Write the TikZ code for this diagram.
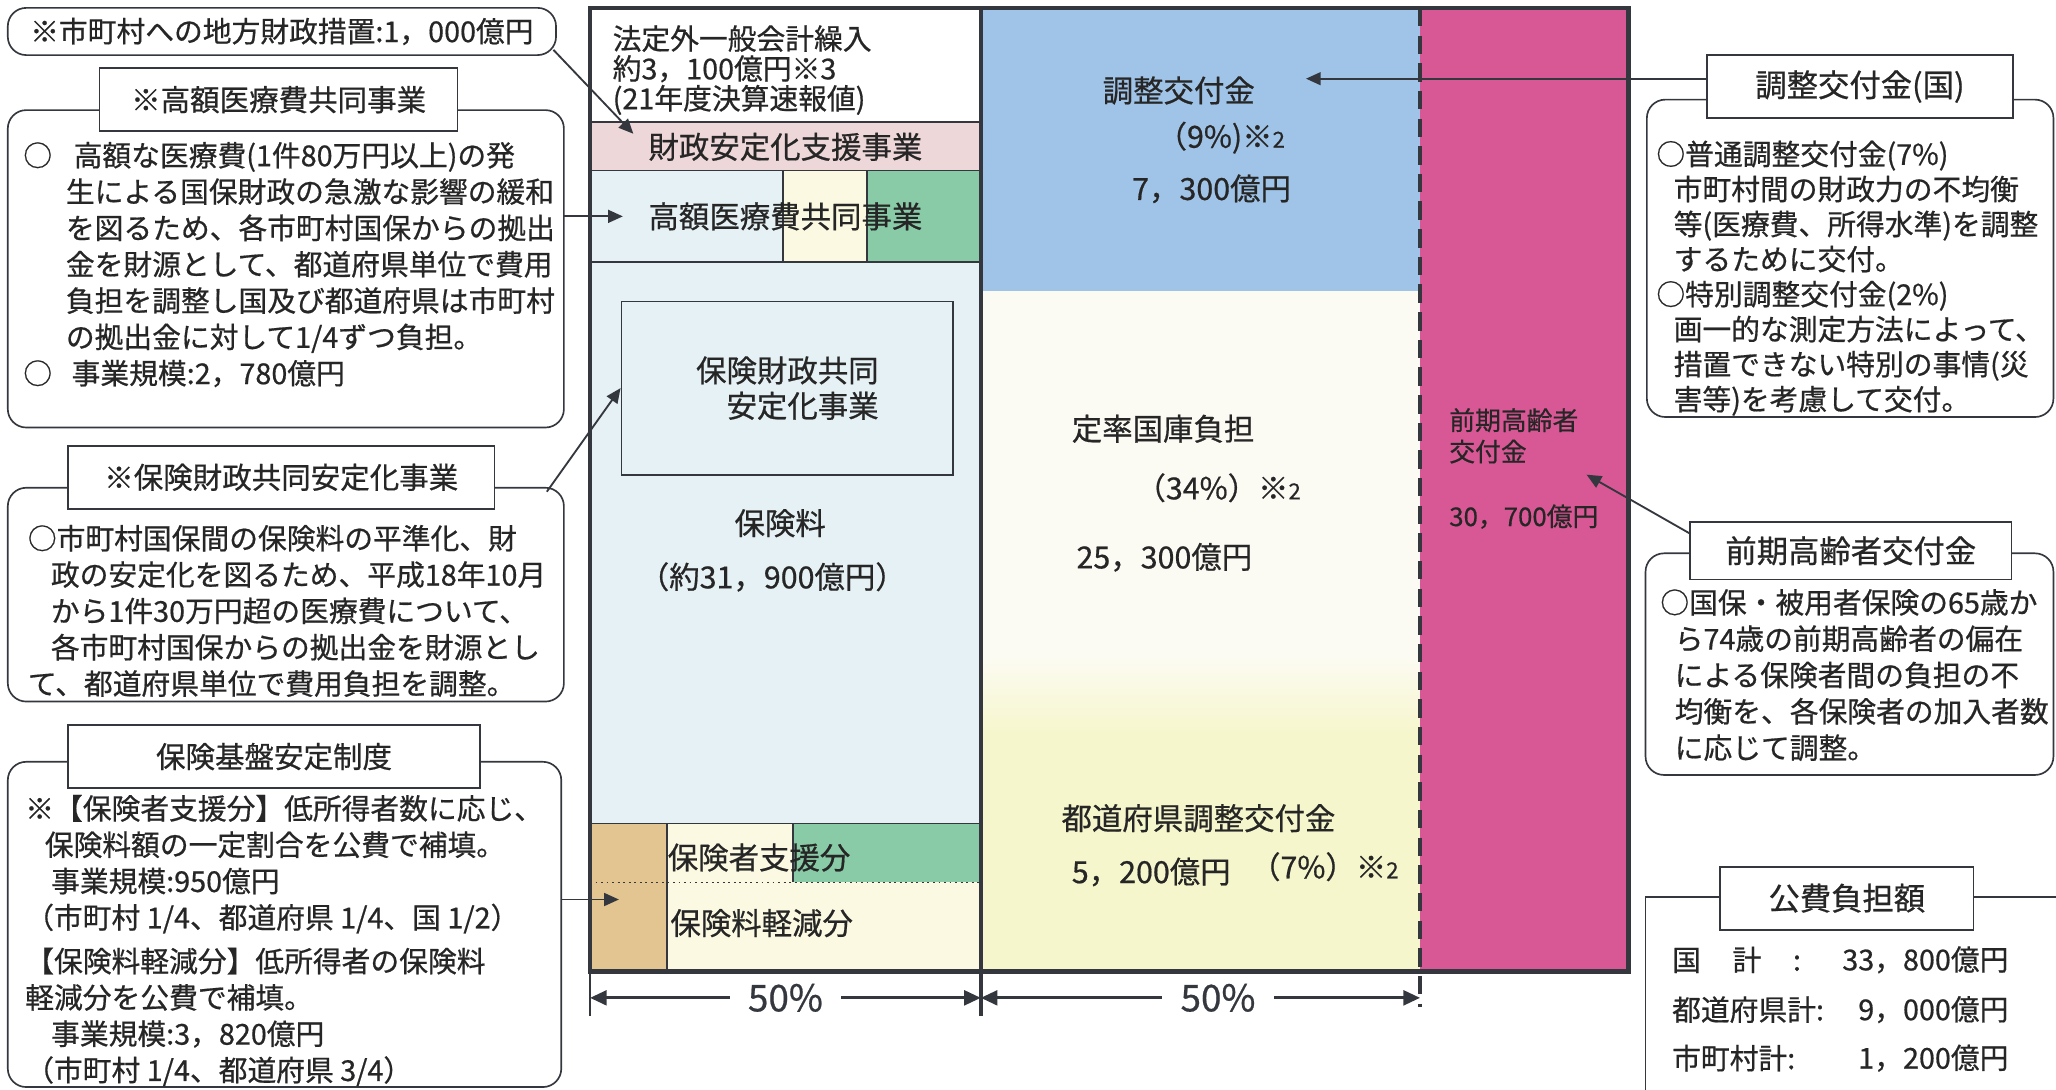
\documentclass[tikz,border=0pt]{standalone}
\usepackage{fontspec}
\setmainfont{Noto Sans CJK JP}[FakeBold=0.6]
\usetikzlibrary{positioning,arrows.meta}

\definecolor{inkgray}{RGB}{52,56,62}
\definecolor{kblue}{RGB}{160,196,232}
\definecolor{kpink}{RGB}{215,88,148}
\definecolor{ksky}{RGB}{229,241,244}
\definecolor{krose}{RGB}{238,215,216}
\definecolor{kgreen}{RGB}{136,203,166}
\definecolor{kcream}{RGB}{252,249,226}
\definecolor{ktan}{RGB}{226,197,145}
\definecolor{kyellow}{RGB}{246,246,204}
\definecolor{kivory}{RGB}{252,251,243}

\newcommand{\fsbody}{\fontsize{15.6pt}{19.7pt}\selectfont}
\newcommand{\fsright}{\fontsize{15.6pt}{19pt}\selectfont}
\newcommand{\fshead}{\fontsize{16pt}{19pt}\selectfont}
\newcommand{\fsheadR}{\fontsize{17pt}{20pt}\selectfont}
\newcommand{\fscell}{\fontsize{16.5pt}{19.2pt}\selectfont}
\newcommand{\fssmall}{\fontsize{14pt}{17pt}\selectfont}
\newcommand{\fsdim}{\fontsize{20pt}{22pt}\selectfont}
\newcommand{\notenum}[1]{{\fontsize{12pt}{12pt}\selectfont #1}}

\tikzset{
  notebox/.style={draw=inkgray, line width=0.9pt, rounded corners=10pt, inner sep=0pt, outer sep=0pt},
  headbox/.style={draw=inkgray, line width=0.9pt, fill=white, inner sep=0pt, outer sep=0pt,
    minimum height=1.2cm, font=\fshead, text=black!85},
  bodytext/.style={inner sep=0pt, align=left, anchor=north west, font=\fsbody, text=black!85},
  celltext/.style={inner sep=0pt, font=\fscell, text=black!85},
  pointer/.style={draw=inkgray, line width=1pt, -{Triangle[length=8pt,width=7pt]}},
  dimline/.style={draw=inkgray, line width=1.6pt, {Triangle[length=9pt,width=8pt]}-{Triangle[length=9pt,width=8pt]}},
  pct/.style={fill=white, inner xsep=10pt, inner ysep=2pt, font=\fsdim, text=inkgray},
}

\begin{document}
\begin{tikzpicture}[x=0.025cm,y=-0.025cm]
  \useasboundingbox (0,0) rectangle (1568,831);
  \fill[white] (0,0) rectangle (1568,831);

  % chart fills
  \fill[white] (450,6) rectangle (748,93);
  \fill[krose] (450,93) rectangle (748,130);
  \fill[ksky] (450,130) rectangle (597,200);
  \fill[kcream] (597,130) rectangle (661,200);
  \fill[kgreen] (661,130) rectangle (748,200);
  \fill[ksky] (450,200) rectangle (748,628);
  \fill[ktan] (450,628) rectangle (509,741);
  \fill[kcream] (509,628) rectangle (605,673);
  \fill[kgreen] (605,628) rectangle (748,673);
  \fill[kcream] (509,673) rectangle (748,741);
  \fill[kblue] (748,6) rectangle (1083,222);
  \fill[kivory] (748,222) rectangle (1083,500);
  \shade[top color=kivory, bottom color=kyellow] (748,500) rectangle (1083,560);
  \fill[kyellow] (748,560) rectangle (1083,741);
  \fill[kpink] (1083,6) rectangle (1242,741);

  % chart lines
  \draw[inkgray, line width=1pt]
    (450,93) -- (748,93)
    (450,130) -- (748,130)
    (450,200) -- (748,200)
    (597,130) -- (597,200)
    (661,130) -- (661,200)
    (450,628) -- (748,628)
    (509,628) -- (509,741)
    (605,628) -- (605,673);
  \draw[inkgray, line width=1pt, dotted] (450,673) -- (748,673);
  \draw[inkgray, line width=2pt] (748,6) -- (748,775);
  \draw[inkgray, line width=2.2pt, dash pattern=on 10pt off 5pt] (1083,6) -- (1083,768);
  \draw[inkgray, line width=2.4pt] (450,6) rectangle (1242,741);
  \draw[inkgray, line width=1.2pt] (450,741) -- (450,775);

  % chart texts
  \node[bodytext, font=\fontsize{15.6pt}{16.2pt}\selectfont] (hotei) at (467,19)
    {法定外一般会計繰入\\約3，100億円※3\\(21年度決算速報値)};
  \node[celltext] (zaisei) at (599,112) {財政安定化支援事業};
  \node[celltext] (kogakucell) at (599,165) {高額医療費共同事業};
  \node[draw=inkgray, line width=1pt, minimum width=6.325cm, minimum height=3.3cm,
    inner sep=0pt, align=right, font=\fscell, text=black!85] (hokenbox) at (600.5,296)
    {保険財政共同\\安定化事業};
  \node[celltext] (hokenryo) at (595,399) {保険料};
  \node[celltext] (hokengaku) at (589,440) {（約31，900億円）};
  \node[celltext, anchor=west] (shien) at (509,654) {保険者支援分};
  \node[celltext, anchor=west] (keigen) at (511,704) {保険料軽減分};
  \node[celltext] (chocell) at (899,69) {調整交付金};
  \node[celltext] (chopct) at (931,105) {（9\%)※\notenum{2}};
  \node[celltext] (choamt) at (924,144) {7，300億円};
  \node[celltext] (teiritsu) at (887,327) {定率国庫負担};
  \node[celltext] (teipct) at (929,372) {（34\%）※\notenum{2}};
  \node[celltext] (teiamt) at (888,425) {25，300億円};
  \node[celltext] (todocell) at (914,624) {都道府県調整交付金};
  \node[celltext] (todoamt) at (878,665) {5，200億円};
  \node[celltext] (todopct) at (1010,661) {（7\%）※\notenum{2}};
  \node[bodytext, font=\fssmall] (zenkicell) at (1105,311) {前期高齢者\\交付金};
  \node[celltext, anchor=west, font=\fssmall] (zenkiamt) at (1105,394) {30，700億円};

  % 50% dimensions
  \coordinate (d0) at (450,761);
  \coordinate (d1) at (748,761);
  \coordinate (d2) at (1083,761);
  \draw[dimline] (d0) -- node[pct] {50\%} (d1);
  \draw[dimline] (d1) -- node[pct, pos=0.54] {50\%} (d2);

  % left notes
  \node[notebox, minimum width=10.45cm, minimum height=0.9cm, font=\fsbody, text=black!85]
    (note1) at (215,24) {※市町村への地方財政措置:1，000億円};

  \node[notebox, minimum width=10.6cm, minimum height=6.05cm] (kogakubox) at (218,205) {};
  \node[headbox, minimum width=6.825cm] (kogakuhead) at (212.5,76) {※高額医療費共同事業};
  \node[bodytext] (kogakutext) at (50,108)
    {\llap{○\hspace{0.48em}}\hspace{0.27em}高額な医療費(1件80万円以上)の発\\
     生による国保財政の急激な影響の緩和\\
     を図るため、各市町村国保からの拠出\\
     金を財源として、都道府県単位で費用\\
     負担を調整し国及び都道府県は市町村\\
     の拠出金に対して1/4ずつ負担。\\
     \llap{○\hspace{0.48em}}\hspace{0.2em}事業規模:2，780億円};

  \node[notebox, minimum width=10.6cm, minimum height=4.075cm] (anteikabox) at (218,453.5) {};
  \node[headbox, minimum width=8.125cm] (anteikahead) at (214.5,364) {※保険財政共同安定化事業};
  \node[bodytext] (anteikatext) at (21,400)
    {○市町村国保間の保険料の平準化、財\\
     \hspace{0.8em}政の安定化を図るため、平成18年10月\\
     \hspace{0.8em}から1件30万円超の医療費について、\\
     \hspace{0.8em}各市町村国保からの拠出金を財源とし\\
     て、都道府県単位で費用負担を調整。};

  \node[notebox, minimum width=10.55cm, minimum height=6.2cm] (kibanbox) at (217,705) {};
  \node[headbox, minimum width=7.85cm] (kibanhead) at (209,577) {保険基盤安定制度};
  \node[bodytext] (kibantext) at (19,606)
    {※【保険者支援分】低所得者数に応じ、\\
     \hspace{0.68em}保険料額の一定割合を公費で補填。\\
     \hspace{0.9em}事業規模:950億円\\
     （市町村 1/4、都道府県 1/4、国 1/2）\\[4pt]
     【保険料軽減分】低所得者の保険料\\
     軽減分を公費で補填。\\
     \hspace{0.9em}事業規模:3，820億円\\
     （市町村 1/4、都道府県 3/4）};

  % right notes
  \node[notebox, minimum width=7.75cm, minimum height=6.05cm] (chobox) at (1411,197) {};
  \node[headbox, font=\fsheadR, minimum width=5.825cm] (chohead) at (1418.5,66) {調整交付金(国)};
  \node[bodytext, font=\fsright] (chotext) at (1263,107)
    {○普通調整交付金(7\%)\\
     \hspace{0.6em}市町村間の財政力の不均衡\\
     \hspace{0.6em}等(医療費、所得水準)を調整\\
     \hspace{0.6em}するために交付。\\
     ○特別調整交付金(2\%)\\
     \hspace{0.6em}画一的な測定方法によって、\\
     \hspace{0.6em}措置できない特別の事情(災\\
     \hspace{0.6em}害等)を考慮して交付。};

  \node[notebox, minimum width=7.775cm, minimum height=4.225cm] (zenbox) at (1410.5,506.5) {};
  \node[headbox, font=\fsheadR, minimum width=6.125cm, minimum height=1.1cm] (zenhead) at (1411.5,420) {前期高齢者交付金};
  \node[bodytext] (zentext) at (1266,449)
    {○国保・被用者保険の65歳か\\
     \hspace{0.5em}ら74歳の前期高齢者の偏在\\
     \hspace{0.5em}による保険者間の負担の不\\
     \hspace{0.5em}均衡を、各保険者の加入者数\\
     \hspace{0.5em}に応じて調整。};

  \draw[inkgray, line width=0.9pt] (1255,831) -- (1255,684) -- (1568,684);
  \node[headbox, font=\fsheadR, minimum width=4.825cm] (kohihead) at (1408.5,685) {公費負担額};
  \node[celltext, anchor=west, font=\fsbody] (kuni) at (1275,732) {国\hspace{1.1em}計\hspace{1.1em}:};
  \node[celltext, anchor=east, font=\fsbody] (kuniamt) at (1532,732) {33，800億円};
  \node[celltext, anchor=west, font=\fsbody] (todokei) at (1275,770) {都道府県計:};
  \node[celltext, anchor=east, font=\fsbody] (todokeiamt) at (1532,770) {9，000億円};
  \node[celltext, anchor=west, font=\fsbody] (shikei) at (1275,807) {市町村計:};
  \node[celltext, anchor=east, font=\fsbody] (shikeiamt) at (1532,807) {1，200億円};

  % pointers
  \coordinate (zaiseitip) at (483,102);
  \coordinate (kogakutip) at (475,165);
  \coordinate (kibantip) at (472,686);
  \coordinate (chotip) at (996,60);
  \coordinate (zenkitip) at (1210,362);
  \draw[pointer] ([shift={(-2,-4)}]note1.south east) -- (zaiseitip);
  \draw[pointer] (kogakubox.east |- kogakutip) -- (kogakutip);
  \draw[pointer] ([shift={(-13,3)}]anteikabox.north east) -- (hokenbox.west);
  \draw[pointer] (kibanbox.east |- kibantip) -- (kibantip);
  \draw[pointer] (chohead.west |- chotip) -- (chotip);
  \draw[pointer] ([shift={(0,9)}]zenhead.north west) -- (zenkitip);
\end{tikzpicture}
\end{document}
